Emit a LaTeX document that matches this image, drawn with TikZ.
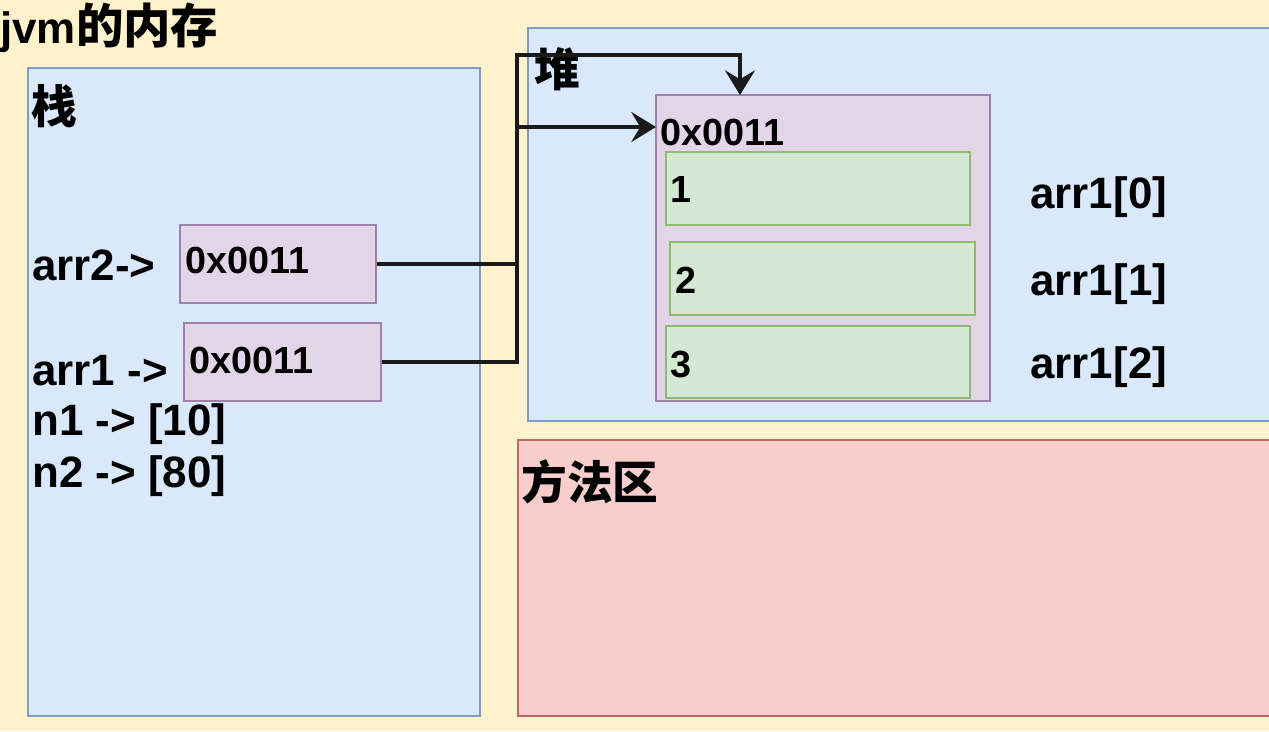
\documentclass[tikz,border=0pt]{standalone}
\usepackage{fontspec}
\setmainfont{Liberation Sans}
\newfontfamily\cjk{Noto Sans CJK SC}
\usetikzlibrary{arrows.meta,fit}

\definecolor{bgyellow}{HTML}{FFF2CC}
\definecolor{bluefill}{HTML}{DAE8FC}
\definecolor{blueline}{HTML}{7F9CC4}
\definecolor{redfill}{HTML}{F8CECC}
\definecolor{redline}{HTML}{C06A66}
\definecolor{purplefill}{HTML}{E1D5E7}
\definecolor{purpleline}{HTML}{9E80AC}
\definecolor{greenfill}{HTML}{D5E8D4}
\definecolor{greenline}{HTML}{8DBB72}
\definecolor{ptrcol}{HTML}{1A1A1A}

\begin{document}
\begin{tikzpicture}[x=0.02cm,y=-0.02cm,
    memarea/.style={draw=blueline, fill=bluefill, line width=1pt, inner sep=0pt},
    methodarea/.style={draw=redline, fill=redfill, line width=1pt, inner sep=0pt},
    refbox/.style={draw=purpleline, fill=purplefill, line width=1pt, inner sep=0pt},
    elembox/.style={draw=greenline, fill=greenfill, line width=1pt, inner sep=0pt},
    lbl/.style={anchor=base west, inner sep=0pt, font=\bfseries\fontsize{25}{29}\selectfont},
    cjklbl/.style={anchor=base west, inner sep=0pt, font=\cjk\bfseries\fontsize{26}{30}\selectfont},
    boxlbl/.style={anchor=base west, inner sep=0pt, font=\bfseries\fontsize{21.5}{25}\selectfont},
    ptr/.style={draw=ptrcol, line width=2.4pt, -{Stealth[length=14pt,width=17pt,inset=5pt]}}]
    % Background
    \useasboundingbox (0,0) rectangle (1269,731);
    \fill[bgyellow] (0,0) rectangle (1269,731);
    \node[lbl] (title) at (0,43) {jvm{\cjk\fontsize{27}{31}\selectfont 的内存}};

    % Areas
    \node[memarea, fit={(28,68) (480,716)}] (stack) {};
    \node[memarea, fit={(528,28) (1275,421)}] (heap) {};
    \node[methodarea, fit={(518,440) (1275,716)}] (method) {};
    \node[cjklbl] (stacklbl) at (31,123) {栈};
    \node[cjklbl] (heaplbl) at (534,86) {堆};
    \node[cjklbl] (methodlbl) at (521,499) {方法区};

    % Array object on the heap
    \node[refbox, fit={(656,95) (990,401)}] (arrobj) {};
    \node[boxlbl] (objaddr) at (660,145) {0x0011};
    \node[elembox, fit={(666,152) (970,225)}] (elem0) {};
    \node[elembox, fit={(670,242) (975,315)}] (elem1) {};
    \node[elembox, fit={(666,326) (970,398)}] (elem2) {};
    \node[boxlbl] (val0) at (670,202) {1};
    \node[boxlbl] (val1) at (675,293) {2};
    \node[boxlbl] (val2) at (670,377) {3};
    \node[lbl] (idx0) at (1030,208) {arr1[0]};
    \node[lbl] (idx1) at (1030,295) {arr1[1]};
    \node[lbl] (idx2) at (1030,378) {arr1[2]};

    % Stack variables
    \node[refbox, fit={(180,225) (376,303)}] (arr2ref) {};
    \node[refbox, fit={(184,323) (381,401)}] (arr1ref) {};
    \node[lbl] (arr2lbl) at (32,280) {arr2->};
    \node[boxlbl] (arr2addr) at (185,273) {0x0011};
    \node[lbl] (arr1lbl) at (32,385) {arr1 ->};
    \node[boxlbl] (arr1addr) at (189,373) {0x0011};
    \node[lbl] (n1lbl) at (32,435) {n1 -> [10]};
    \node[lbl] (n2lbl) at (32,487) {n2 -> [80]};

    % References
    \coordinate (objtop) at (740,95);
    \coordinate (objleft) at (656,127);
    \draw[ptr] (arr2ref.east) -| (517,55) -| (objtop);
    \draw[ptr] (arr1ref.east) -| (517,127) -- (objleft);
\end{tikzpicture}
\end{document}
